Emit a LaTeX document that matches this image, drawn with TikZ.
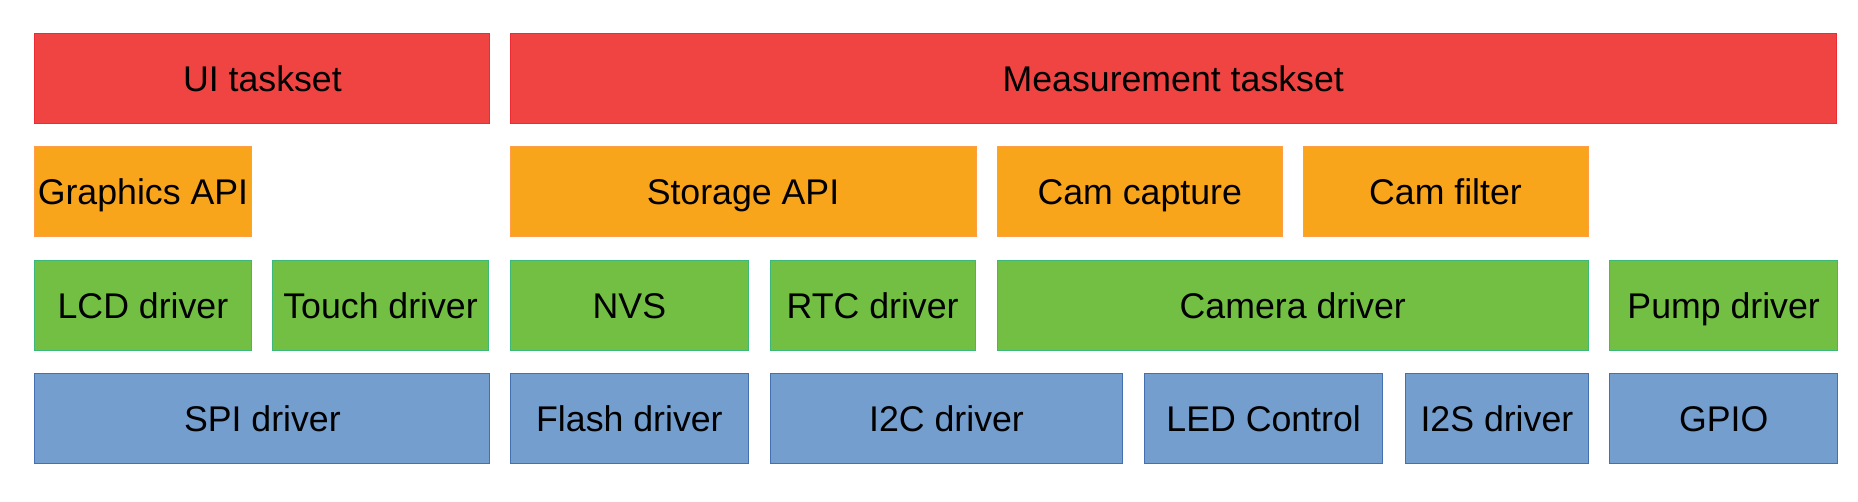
\documentclass[tikz,border=0pt]{standalone}
\usepackage{fontspec}
\setmainfont{Liberation Sans}
\definecolor{redF}{HTML}{EF4442}
\definecolor{redD}{HTML}{EE2A33}
\definecolor{orF}{HTML}{F8A51C}
\definecolor{orD}{HTML}{FF9E45}
\definecolor{grF}{HTML}{72BF44}
\definecolor{grD}{HTML}{3CB878}
\definecolor{blF}{HTML}{739ECE}
\definecolor{blD}{HTML}{4470B0}
\tikzset{
  blk/.style={draw, line width=1pt, rectangle, inner sep=0pt, anchor=north west,
    font=\fontsize{35.7}{40}\selectfont, text height=25.6pt, text depth=0pt},
  redbox/.style={blk, fill=redF, draw=redD},
  orbox/.style={blk, fill=orF, draw=orD},
  grbox/.style={blk, fill=grF, draw=grD},
  blbox/.style={blk, fill=blF, draw=blD},
}
\newcommand{\blk}[7]{%
  \node[#6, minimum width={(#4-#2)*1pt}, minimum height={(#5-#3)*1pt}] (#1) at (#2,#3) {#7};}
\begin{document}
\begin{tikzpicture}[x=1pt,y=-1pt]
\useasboundingbox (0,0) rectangle (1858,501);
% row 1
\blk{ui}{34.4}{33.3}{489.4}{123.4}{redbox}{UI taskset}
\blk{meas}{509.5}{33.3}{1836}{123.4}{redbox}{Measurement taskset}
% row 2
\blk{gfx}{34.4}{145.7}{250.5}{236}{orbox}{Graphics API}
\blk{stor}{509.5}{145.7}{975.5}{236}{orbox}{Storage API}
\blk{capt}{997}{145.7}{1281.5}{236}{orbox}{Cam capture}
\blk{filt}{1302.5}{145.7}{1587.5}{236}{orbox}{Cam filter}
% row 3
\blk{lcd}{34.4}{259.6}{250.5}{350}{grbox}{LCD driver}
\blk{touch}{272.3}{259.6}{487.8}{350}{grbox}{Touch driver}
\blk{nvs}{509.5}{259.6}{748.3}{350}{grbox}{NVS}
\blk{rtc}{769.6}{259.6}{974.6}{350}{grbox}{RTC driver}
\blk{cam}{997}{259.6}{1587.5}{350}{grbox}{Camera driver}
\blk{pump}{1609.3}{259.6}{1837}{350}{grbox}{Pump driver}
% row 4
\blk{spi}{34.4}{373.3}{489.4}{463.3}{blbox}{SPI driver}
\blk{flash}{509.5}{373.3}{748.3}{463.3}{blbox}{Flash driver}
\blk{i2c}{769.8}{373.3}{1122.3}{463.3}{blbox}{I2C driver}
\blk{led}{1144}{373.3}{1382.3}{463.3}{blbox}{LED Control}
\blk{i2s}{1405.3}{373.3}{1587.5}{463.3}{blbox}{I2S driver}
\blk{gpio}{1609.3}{373.3}{1837}{463.3}{blbox}{GPIO}
\end{tikzpicture}
\end{document}
